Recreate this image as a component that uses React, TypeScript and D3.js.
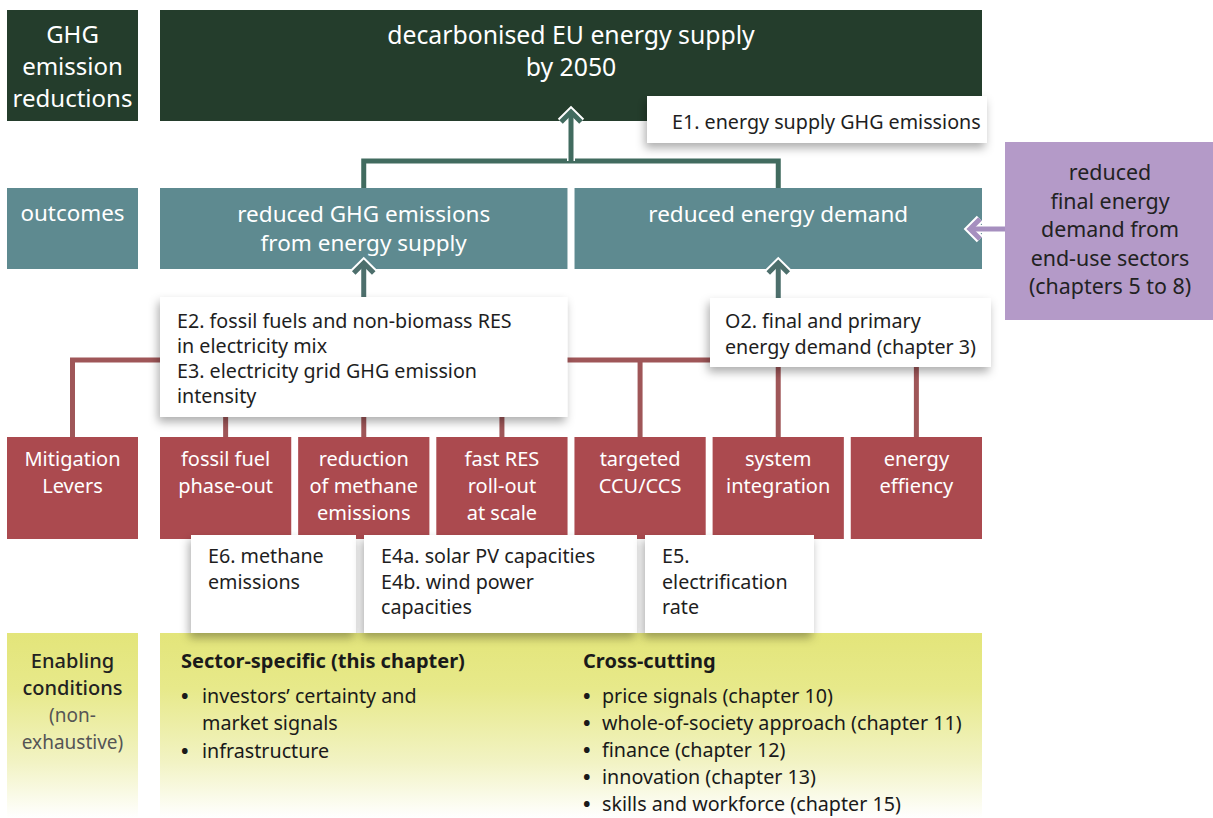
import React from 'react';
import * as d3 from 'd3';

// ---------- content ----------
const goalRowLabel = ['GHG', 'emission', 'reductions'];
const goalLines = ['decarbonised EU energy supply', 'by 2050'];
const goalIndicator = ['E1. energy supply GHG emissions'];
const outcomeRowLabel = ['outcomes'];
const outcomes = [['reduced GHG emissions', 'from energy supply'], ['reduced energy demand']];
const externalOutcome = ['reduced', 'final energy', 'demand from', 'end-use sectors', '(chapters 5 to 8)'];
const outcomeIndicatorE = ['E2. fossil fuels and non-biomass RES', 'in electricity mix', 'E3. electricity grid GHG emission', 'intensity'];
const outcomeIndicatorO = ['O2. final and primary', 'energy demand (chapter 3)'];
const leverRowLabel = ['Mitigation', 'Levers'];
const levers = [
  ['fossil fuel', 'phase-out'],
  ['reduction', 'of methane', 'emissions'],
  ['fast RES', 'roll-out', 'at scale'],
  ['targeted', 'CCU/CCS'],
  ['system', 'integration'],
  ['energy', 'effiency'],
];
const leverIndicators = [
  ['E6. methane', 'emissions'],
  ['E4a. solar PV capacities', 'E4b. wind power', 'capacities'],
  ['E5.', 'electrification', 'rate'],
];
const enablingLabel = ['Enabling', 'conditions'];
const enablingNote = ['(non-', 'exhaustive)'];
const sectorTitle = 'Sector-specific (this chapter)';
const sectorItems = [['investors’ certainty and', 'market signals'], ['infrastructure']];
const crossTitle = 'Cross-cutting';
const crossItems = [
  ['price signals (chapter 10)'],
  ['whole-of-society approach (chapter 11)'],
  ['finance (chapter 12)'],
  ['innovation (chapter 13)'],
  ['skills and workforce (chapter 15)'],
];

// ---------- styling / layout ----------
const W = 1213, H = 818;
const FONT = "'Noto Sans', 'Open Sans', sans-serif";
const C = {
  dark: '#243d2c', teal: '#5e8a90', purple: '#b49ac8', red: '#ab4a4f',
  yellow: '#e3e57a', linkTeal: '#416b5f', linkRed: '#9f5658', linkPurple: '#a68fbf',
  text: '#1e1e1e',
};
const labelCol = { x0: 7, x1: 138 };
const main = { x0: 160, x1: 982 };
const rows = {
  goal: [10, 121], outcome: [188, 269], lever: [437, 539], enabling: [633, 818],
};

const outcomeX = d3.scaleBand<number>().domain(d3.range(outcomes.length)).range([main.x0, main.x1]).paddingInner(0.017);
const leverX = d3.scaleBand<number>().domain(d3.range(levers.length)).range([main.x0, main.x1]).paddingInner(0.05);

function Lines({ lines, x, y, lh, size, anchor = 'middle', fill = C.text, weight = 400 }: any) {
  return (
    <text x={x} y={y} fontSize={size} fontFamily={FONT} textAnchor={anchor} fill={fill} fontWeight={weight}>
      {lines.map((l: string, i: number) => (
        <tspan key={i} x={x} y={y + i * lh}>{l}</tspan>
      ))}
    </text>
  );
}

function Arrow({ x, y, color, dir = 'up', len }: any) {
  const a = 10, b = 11;
  let head: string, shaft: string;
  if (dir === 'up') {
    head = `M${x - a},${y + b} L${x},${y + 1} L${x + a},${y + b}`;
    shaft = `M${x},${y + 2} L${x},${y + len}`;
  } else {
    head = `M${x + b},${y - a} L${x + 1},${y} L${x + b},${y + a}`;
    shaft = `M${x + 2},${y} L${x + len},${y}`;
  }
  return (
    <g fill="none" strokeLinejoin="miter">
      <path d={head} stroke="#fff" strokeWidth={9} />
      <path d={shaft} stroke="#fff" strokeWidth={8} />
      <path d={head} stroke={color} strokeWidth={5} />
      <path d={shaft} stroke={color} strokeWidth={5} />
    </g>
  );
}

function WhiteBox({ x0, x1, y0, y1 }: any) {
  return <rect x={x0} y={y0} width={x1 - x0} height={y1 - y0} fill="#fff" filter="url(#shadow)" />;
}

export default function App() {
  const oc = (i: number) => outcomeX(i)! + outcomeX.bandwidth() / 2;
  const lc = (i: number) => leverX(i)! + leverX.bandwidth() / 2;
  const mainC = (main.x0 + main.x1) / 2;
  const labC = (labelCol.x0 + labelCol.x1) / 2;
  const hubY = 161, leverHubY = 360;
  const e2Box = { x0: outcomeX(0)!, x1: outcomeX(0)! + outcomeX.bandwidth(), y0: 297, y1: 417 };
  const o2Box = { x0: 710, x1: 991, y0: 298, y1: 367 };
  const indBoxes = [
    { x0: 191, x1: 356 },
    { x0: 364, x1: 637 },
    { x0: 645, x1: 814 },
  ];
  const indY = [535, 633];
  const bodySize = 19.7;

  return (
    <svg width={W} height={H} style={{ position: 'absolute', left: 0, top: 0, background: '#fff' }}>
      <defs>
        <filter id="shadow" x="-20%" y="-20%" width="140%" height="150%">
          <feDropShadow dx={-2} dy={5} stdDeviation={5} floodColor="#000" floodOpacity={0.32} />
        </filter>
        <linearGradient id="yel" x1="0" y1="0" x2="0" y2="1">
          <stop offset="0" stopColor={C.yellow} />
          <stop offset="0.3" stopColor="#e7e98a" />
          <stop offset="0.7" stopColor="#f2f3c4" />
          <stop offset="1" stopColor="#ffffff" />
        </linearGradient>
      </defs>

      {/* Row 1: goal */}
      <rect x={labelCol.x0} y={rows.goal[0]} width={labelCol.x1 - labelCol.x0} height={rows.goal[1] - rows.goal[0]} fill={C.dark} />
      <Lines lines={goalRowLabel} x={labC} y={43} lh={32} size={24} fill="#fff" />
      <rect x={main.x0} y={rows.goal[0]} width={main.x1 - main.x0} height={rows.goal[1] - rows.goal[0]} fill={C.dark} />
      <Lines lines={goalLines} x={mainC} y={44} lh={32} size={24.8} fill="#fff" />

      {/* Links outcome -> goal */}
      <path d={`M${oc(0)},${rows.outcome[0]} V${hubY} H${oc(1)} V${rows.outcome[0]}`} fill="none" stroke={C.linkTeal} strokeWidth={5} />
      <Arrow x={mainC} y={111} color={C.linkTeal} dir="up" len={hubY - 111} />

      <WhiteBox x0={647} x1={987} y0={96} y1={143} />
      <Lines lines={goalIndicator} x={672} y={129} lh={25} size={19.7} anchor="start" />

      {/* Row 2: outcomes */}
      <rect x={labelCol.x0} y={rows.outcome[0]} width={labelCol.x1 - labelCol.x0} height={rows.outcome[1] - rows.outcome[0]} fill={C.teal} />
      <Lines lines={outcomeRowLabel} x={labC} y={221} lh={28} size={22.4} fill="#fff" />
      {outcomes.map((o, i) => (
        <g key={i}>
          <rect x={outcomeX(i)} y={rows.outcome[0]} width={outcomeX.bandwidth()} height={rows.outcome[1] - rows.outcome[0]} fill={C.teal} />
          <Lines lines={o} x={oc(i)} y={222} lh={29} size={22.5} fill="#fff" />
        </g>
      ))}

      {/* external outcome */}
      <rect x={1005} y={142} width={W - 1005} height={320 - 142} fill={C.purple} />
      <Lines lines={externalOutcome} x={1110} y={180} lh={28.5} size={21.4} fill="#222" />
      <Arrow x={969} y={229} color={C.linkPurple} dir="left" len={1005 - 969} />

      {/* lever links */}
      <path d={`M${labC},${rows.lever[0]} V${leverHubY} H${lc(levers.length - 1)}`} fill="none" stroke={C.linkRed} strokeWidth={5} />
      {levers.map((_, i) => (
        <line key={i} x1={lc(i)} x2={lc(i)} y1={leverHubY} y2={rows.lever[0]} stroke={C.linkRed} strokeWidth={5} />
      ))}
      <line x1={oc(0)} x2={oc(0)} y1={e2Box.y0} y2={leverHubY} stroke={C.linkRed} strokeWidth={5} />
      <line x1={oc(1)} x2={oc(1)} y1={o2Box.y0} y2={leverHubY} stroke={C.linkRed} strokeWidth={5} />
      <Arrow x={oc(0)} y={262} color="#4d6f6c" dir="up" len={e2Box.y0 - 262} />
      <Arrow x={oc(1)} y={262} color="#4d6f6c" dir="up" len={o2Box.y0 - 262} />

      <WhiteBox {...e2Box} />
      <Lines lines={outcomeIndicatorE} x={177} y={328} lh={25} size={bodySize} anchor="start" />
      <WhiteBox {...o2Box} />
      <Lines lines={outcomeIndicatorO} x={725} y={328} lh={25.5} size={bodySize} anchor="start" />

      {/* Row 4: levers */}
      <rect x={labelCol.x0} y={rows.lever[0]} width={labelCol.x1 - labelCol.x0} height={rows.lever[1] - rows.lever[0]} fill={C.red} />
      <Lines lines={leverRowLabel} x={labC} y={466} lh={27} size={20} fill="#fff" />
      {levers.map((l, i) => (
        <g key={i}>
          <rect x={leverX(i)} y={rows.lever[0]} width={leverX.bandwidth()} height={rows.lever[1] - rows.lever[0]} fill={C.red} />
          <Lines lines={l} x={lc(i)} y={466} lh={27} size={20} fill="#fff" />
        </g>
      ))}

      {/* Row 6: enabling */}
      <rect x={labelCol.x0} y={rows.enabling[0]} width={labelCol.x1 - labelCol.x0} height={rows.enabling[1] - rows.enabling[0]} fill="url(#yel)" />
      <rect x={main.x0} y={rows.enabling[0]} width={main.x1 - main.x0} height={rows.enabling[1] - rows.enabling[0]} fill="url(#yel)" />

      {/* Row 5: lever indicators */}
      {leverIndicators.map((l, i) => (
        <g key={i}>
          <WhiteBox x0={indBoxes[i].x0} x1={indBoxes[i].x1} y0={indY[0]} y1={indY[1]} />
          <Lines lines={l} x={indBoxes[i].x0 + 17} y={563} lh={25.5} size={bodySize} anchor="start" />
        </g>
      ))}

      <Lines lines={enablingLabel} x={labC} y={668} lh={27} size={20} weight={500} fill="#222" />
      <Lines lines={enablingNote} x={labC} y={722} lh={26.5} size={19} fill="#555" />

      <text x={181} y={668} fontSize={20} fontFamily={FONT} fontWeight={700} fill="#1a1a1a">{sectorTitle}</text>
      {(() => {
        let y = 703;
        return sectorItems.map((it, i) => {
          const g = (
            <g key={i}>
              <text x={181} y={y} fontSize={20} fontFamily={FONT} fontWeight={700} fill="#1a1a1a">•</text>
              <Lines lines={it} x={202} y={y} lh={27} size={bodySize} anchor="start" fill="#1a1a1a" />
            </g>
          );
          y += it.length * 27.5;
          return g;
        });
      })()}

      <text x={583} y={668} fontSize={20} fontFamily={FONT} fontWeight={700} fill="#1a1a1a">{crossTitle}</text>
      {crossItems.map((it, i) => (
        <g key={i}>
          <text x={583} y={703 + i * 27} fontSize={20} fontFamily={FONT} fontWeight={700} fill="#1a1a1a">•</text>
          <Lines lines={it} x={602} y={703 + i * 27} lh={27} size={bodySize} anchor="start" fill="#1a1a1a" />
        </g>
      ))}
    </svg>
  );
}
